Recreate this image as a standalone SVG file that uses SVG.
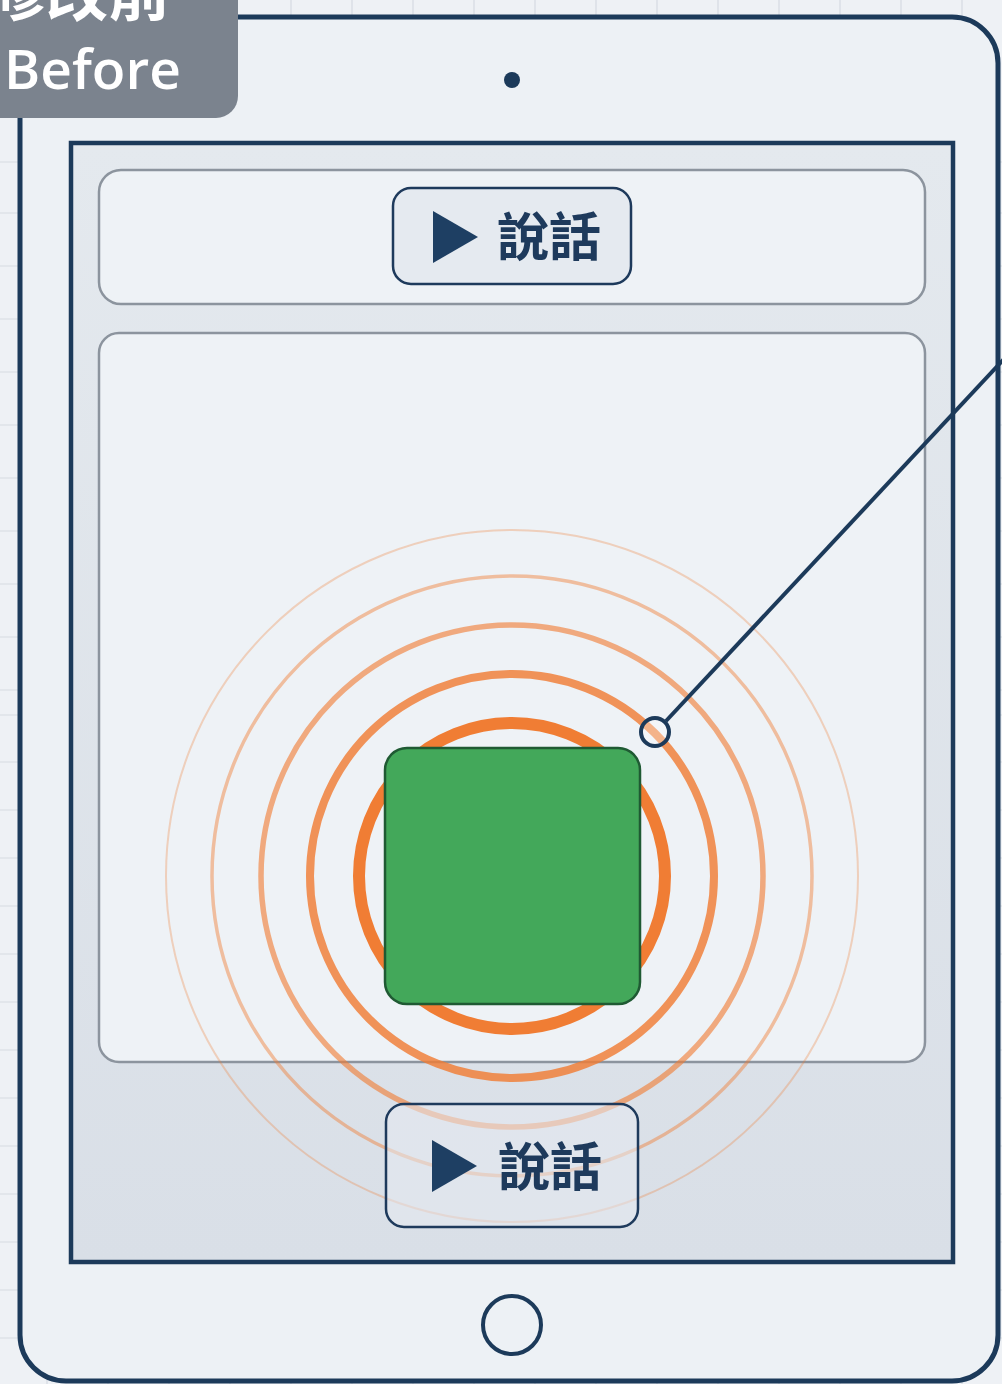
<svg xmlns="http://www.w3.org/2000/svg" width="1002" height="1384" viewBox="0 0 1002 1384">
  <defs>
    <style>
      .grid { stroke: #d5dbe2; stroke-width: 1.2; }
      .navy { stroke: #1c3a5a; }
      .panel { fill: #eef2f6; stroke: #8c949e; stroke-width: 2.5; }
      .btn { fill: #e5eaf0; stroke: #1e3a5c; stroke-width: 2.5; }
      .play { fill: #1e3f63; }
      .btntxt { font-family: "Noto Sans CJK TC", "Noto Sans CJK SC", sans-serif; font-weight: 700; font-size: 52px; fill: #1e3a5c; }
      .lbl { font-family: "Open Sans", "Noto Sans CJK TC", sans-serif; font-weight: 600; fill: #ffffff; }
      .ring { fill: none; stroke: #f07d34; }
    </style>
    <linearGradient id="screenGrad" x1="0" y1="0" x2="0" y2="1">
      <stop offset="0" stop-color="#e4e9ee"/>
      <stop offset="1" stop-color="#d9dfe7"/>
    </linearGradient>
  </defs>

  <!-- background grid -->
  <rect x="0" y="0" width="1002" height="1384" fill="#eef1f5"/>
  <g id="grid">
    <line class="grid" x1="47" y1="0" x2="47" y2="1384"/>
    <line class="grid" x1="108" y1="0" x2="108" y2="1384"/>
    <line class="grid" x1="169" y1="0" x2="169" y2="1384"/>
    <line class="grid" x1="230" y1="0" x2="230" y2="1384"/>
    <line class="grid" x1="291" y1="0" x2="291" y2="1384"/>
    <line class="grid" x1="352" y1="0" x2="352" y2="1384"/>
    <line class="grid" x1="413" y1="0" x2="413" y2="1384"/>
    <line class="grid" x1="474" y1="0" x2="474" y2="1384"/>
    <line class="grid" x1="535" y1="0" x2="535" y2="1384"/>
    <line class="grid" x1="596" y1="0" x2="596" y2="1384"/>
    <line class="grid" x1="657" y1="0" x2="657" y2="1384"/>
    <line class="grid" x1="718" y1="0" x2="718" y2="1384"/>
    <line class="grid" x1="779" y1="0" x2="779" y2="1384"/>
    <line class="grid" x1="840" y1="0" x2="840" y2="1384"/>
    <line class="grid" x1="901" y1="0" x2="901" y2="1384"/>
    <line class="grid" x1="962" y1="0" x2="962" y2="1384"/>
    <line class="grid" x1="0" y1="162" x2="1002" y2="162"/>
    <line class="grid" x1="0" y1="213" x2="1002" y2="213"/>
    <line class="grid" x1="0" y1="266" x2="1002" y2="266"/>
    <line class="grid" x1="0" y1="319" x2="1002" y2="319"/>
    <line class="grid" x1="0" y1="372" x2="1002" y2="372"/>
    <line class="grid" x1="0" y1="425" x2="1002" y2="425"/>
    <line class="grid" x1="0" y1="478" x2="1002" y2="478"/>
    <line class="grid" x1="0" y1="531" x2="1002" y2="531"/>
    <line class="grid" x1="0" y1="584" x2="1002" y2="584"/>
    <line class="grid" x1="0" y1="637" x2="1002" y2="637"/>
    <line class="grid" x1="0" y1="690" x2="1002" y2="690"/>
    <line class="grid" x1="0" y1="715" x2="1002" y2="715"/>
    <line class="grid" x1="0" y1="762" x2="1002" y2="762"/>
    <line class="grid" x1="0" y1="810" x2="1002" y2="810"/>
    <line class="grid" x1="0" y1="858" x2="1002" y2="858"/>
    <line class="grid" x1="0" y1="906" x2="1002" y2="906"/>
    <line class="grid" x1="0" y1="954" x2="1002" y2="954"/>
    <line class="grid" x1="0" y1="1002" x2="1002" y2="1002"/>
    <line class="grid" x1="0" y1="1050" x2="1002" y2="1050"/>
    <line class="grid" x1="0" y1="1098" x2="1002" y2="1098"/>
    <line class="grid" x1="0" y1="1146" x2="1002" y2="1146"/>
    <line class="grid" x1="0" y1="1194" x2="1002" y2="1194"/>
    <line class="grid" x1="0" y1="1242" x2="1002" y2="1242"/>
    <line class="grid" x1="0" y1="1290" x2="1002" y2="1290"/>
    <line class="grid" x1="0" y1="1338" x2="1002" y2="1338"/>
  </g>

  <!-- tablet body -->
  <g id="tablet">
    <rect x="20" y="17" width="978" height="1364" rx="46" fill="#edf1f5" stroke="#1c3a5a" stroke-width="5"/>
    <circle cx="512" cy="80" r="8" fill="#1c3a5a"/>
    <circle id="home-button" cx="512" cy="1325" r="29" fill="none" stroke="#1c3a5a" stroke-width="4"/>
  </g>

  <!-- screen -->
  <g id="screen">
    <rect x="71" y="143" width="882" height="1119" fill="url(#screenGrad)" stroke="#1c3a5a" stroke-width="4.5"/>
  </g>

  <g id="top-panel">
    <rect class="panel" x="99" y="170" width="826" height="134" rx="22"/>
  </g>

  <g id="main-panel">
    <rect class="panel" x="99" y="333" width="826" height="729" rx="20"/>
  </g>

  <g id="top-button">
    <rect class="btn" x="393" y="188" width="238" height="96" rx="18"/>
    <polygon class="play" points="433,211 478,237 433,263"/>
    <text class="btntxt" x="497" y="256">說話</text>
  </g>

  <!-- ripple rings -->
  <g id="ripples">
    <circle class="ring" cx="512" cy="876" r="346" stroke-width="2" stroke-opacity="0.3"/>
    <circle class="ring" cx="512" cy="876" r="300" stroke-width="3.5" stroke-opacity="0.45"/>
    <circle class="ring" cx="512" cy="876" r="251" stroke-width="5.5" stroke-opacity="0.62"/>
    <circle class="ring" cx="512" cy="876" r="202" stroke-width="8" stroke-opacity="0.82"/>
    <circle class="ring" cx="512" cy="876" r="153" stroke-width="12"/>
  </g>

  <g id="bottom-button">
    <rect class="btn" x="386" y="1104" width="252" height="123" rx="18" fill-opacity="0.55"/>
    <polygon class="play" points="432,1140 477,1166 432,1192"/>
    <text class="btntxt" x="498" y="1186">說話</text>
  </g>

  <g id="green-square">
    <rect x="385" y="748" width="255" height="256" rx="22" fill="#43a85a" stroke="#1f5a33" stroke-width="2.5"/>
  </g>

  <g id="connectors">
    <line x1="666" y1="721" x2="1004" y2="359" stroke="#1c3a5a" stroke-width="4"/>
    <circle cx="655" cy="732" r="14" fill="#ffffff" fill-opacity="0.3" stroke="#1c3a5a" stroke-width="4"/>
  </g>

  <!-- label -->
  <g id="label">
    <rect x="-30" y="-30" width="268" height="148" rx="22" fill="#7b838e"/>
    <text class="lbl" x="-16" y="16" font-size="62" font-family="Noto Sans CJK TC, sans-serif">修改前</text>
    <text class="lbl" x="4" y="89" font-size="55">Before</text>
  </g>
</svg>
